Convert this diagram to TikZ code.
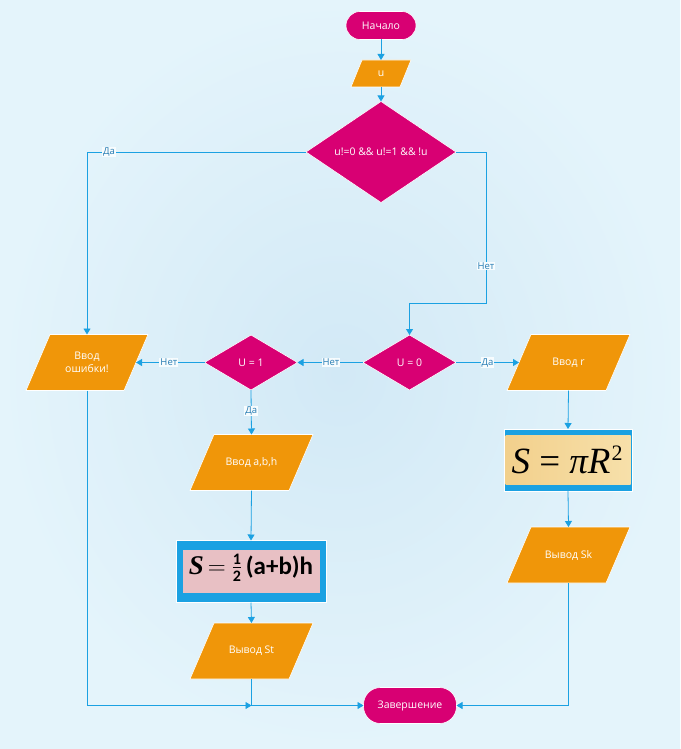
\documentclass[tikz,border=0pt]{standalone}
\usepackage{fontspec}
\setmainfont{Open Sans}
\newfontfamily\formfont{Liberation Serif}
\newfontfamily\calfont{Carlito}
\usetikzlibrary{shapes.geometric,arrows.meta}
\definecolor{bgout}{RGB}{228,244,251}
\definecolor{bgin}{RGB}{210,233,246}
\definecolor{mag}{RGB}{216,0,115}
\definecolor{org}{RGB}{240,150,9}
\definecolor{lnk}{RGB}{27,161,226}
\definecolor{lbl}{RGB}{40,125,180}
\definecolor{tan}{RGB}{242,208,140}
\definecolor{tanl}{RGB}{247,224,170}
\definecolor{pinkf}{RGB}{232,192,196}
\tikzset{
  x=1pt,y=-1pt,
  every node/.style={font=\fontsize{10.5}{12.5}\selectfont, text=white, inner sep=0pt, outer sep=0pt},
  term/.style={draw=white, line width=0.6pt, fill=mag, rounded corners=14pt, minimum height=28pt},
  pgshape/.style={fill=org, draw=white, line width=0.6pt},
  dec/.style={draw=white, line width=0.6pt, fill=mag, diamond},
  conn/.style={draw=lnk, line width=0.8pt, -{Triangle[width=7pt,length=6pt]}},
  elbl/.style={fill=white!70!bgout, text=lbl, font=\fontsize{9.5}{11}\selectfont, inner sep=1pt},
}
% name, x, y, total width, height, slant, text
\newcommand\pgram[7]{%
  \path[pgshape] (#2-#4/2+#6,#3-#5/2) -- (#2+#4/2,#3-#5/2) -- (#2+#4/2-#6,#3+#5/2) -- (#2-#4/2,#3+#5/2) -- cycle;
  \node[align=center, minimum width=#4pt-#6pt, minimum height=#5pt] (#1) at (#2,#3) {#7};}
\newcommand\fracfnt{\calfont\bfseries\fontsize{16}{16}\selectfont}
\newcommand\halffrac{$\vcenter{\hbox{\fracfnt 1}\kern3pt\hrule height 1pt\kern3pt\hbox{\fracfnt 2}}$}
\begin{document}
\begin{tikzpicture}
\useasboundingbox (0,0) rectangle (680,749);
\shade[inner color=bgin, outer color=bgout] (0,0) rectangle (680,749);

% nodes
\node[term, minimum width=70pt] (start) at (381,25.5) {Начало};
\pgram{u}{381}{73.5}{60}{27}{11}{u}
\node[dec, minimum width=150pt, minimum height=90pt] (c1) at (381,152) {u!=0 \&\& u!=1 \&\& !u};
\node[dec, minimum width=93pt, minimum height=55pt] (u0) at (409.5,362.5) {U = 0};
\node[dec, minimum width=93pt, minimum height=55pt] (u1) at (251,362.5) {U = 1};
\pgram{err}{87}{362.5}{122}{56}{24}{Ввод\\ошибки!}
\pgram{inr}{568.5}{362.5}{123}{56}{24}{Ввод r}
\pgram{inabh}{251.5}{462.5}{123}{56}{24}{Ввод a,b,h}
\pgram{outsk}{568.5}{555}{123}{56}{24}{Вывод Sk}
\pgram{outst}{251.5}{651}{123}{56}{24}{Вывод St}
\node[term, minimum width=93pt, minimum height=36pt, rounded corners=17pt] (fin) at (410,705.5) {Завершение};

% formula box 1 (circle)
\node[draw=white, line width=0.6pt, fill=lnk, minimum width=128pt, minimum height=62pt] (f1) at (568,460) {};
\shade[left color=tan, right color=tanl] (505.5,435.5) rectangle (630.5,484.5);
\node[text=black, font=\formfont\fontsize{37}{39}\selectfont] (f1t) at (567,460) {\itshape S\upshape{} = \itshape πR\upshape\kern1pt\raisebox{13pt}{\fontsize{22}{22}\selectfont 2}};

% formula box 2 (trapezoid area)
\node[draw=white, line width=0.6pt, fill=lnk, minimum width=150pt, minimum height=62pt] (f2) at (251,571.5) {};
\fill[pinkf] (182.5,549.5) rectangle (319.5,592.5);
\node[text=black, font=\calfont\bfseries\fontsize{25}{27}\selectfont] (f2t) at (251,568) {{\formfont\bfseries\itshape\fontsize{27}{27}\selectfont S}\hspace{4pt}{\fontsize{31}{31}\selectfont$=$}\hspace{7pt}\halffrac\hspace{5pt}(a+b)h};

% connectors
\draw[conn] (start) -- (u);
\draw[conn] (u) -- (c1);
\draw[conn] (c1.west) -- (87,152) node[elbl, pos=0.9] (l1) {Да} -- (err.north);
\draw[conn] (c1.east) -- (486,152) -- (486,303) node[elbl, pos=0.755] (l2) {Нет} -- (409.5,303) -- (u0.north);
\draw[conn] (u0.west) -- node[elbl, pos=0.49] (l3) {Нет} (u1.east);
\draw[conn] (u1.west) -- node[elbl, pos=0.52] (l4) {Нет} (err.east);
\draw[conn] (u0.east) -- node[elbl, pos=0.5] (l5) {Да} (inr.west);
\draw[conn] (u1.south) -- node[elbl, pos=0.47] (l6) {Да} (inabh.north);
\draw[conn] (inr.south) -- (f1.north);
\draw[conn] (f1.south) -- (outsk.north);
\draw[conn] (inabh.south) -- (f2.north);
\draw[conn] (f2.south) -- (outst.north);
\draw[conn] (outsk.south) -- (568.5,705.5) -- (fin.east);
\coordinate (j) at (251.5,705.5);
\draw[conn] (err.south) -- (87,705.5) -- (j);
\draw[conn] (outst.south) -- (j) -- (fin.west);
\end{tikzpicture}
\end{document}
